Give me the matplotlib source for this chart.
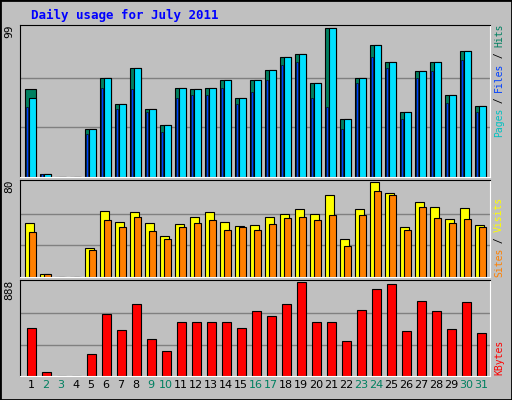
import numpy as np
import matplotlib
matplotlib.use("Agg")
import matplotlib.pyplot as plt
from matplotlib.transforms import IdentityTransform

days = np.arange(1, 32)
hits = [58.7, 2.2, 0, 0, 31.8, 66, 48.6, 72.1, 45.2, 34.5, 59.4, 58.7, 59.4, 64.7, 52.6, 64.7,
        71.4, 79.5, 81.5, 62.7, 99, 38.5, 66, 87.6, 76.2, 43.2, 70.1, 76.2, 54.7, 83.5, 47.3]
files = [52.6, 2.2, 0, 0, 31.8, 66, 48.6, 72.1, 45.2, 34.5, 59.4, 58.7, 59.4, 64.7, 52.6, 64.7,
         71.4, 79.5, 81.5, 62.7, 99, 38.5, 66, 87.6, 76.2, 43.2, 70.1, 76.2, 54.7, 83.5, 47.3]
pages = [46.6, 2.2, 0, 0, 28.4, 59.4, 45.2, 58.7, 43.2, 29.8, 52.6, 54.7, 54.7, 59.4, 48.6, 56.7,
         64.7, 74.1, 76.2, 52.6, 46.6, 31.8, 62.7, 79.5, 72.1, 38.5, 66, 70.1, 49.3, 77.5, 43.2]
visits = [45.3, 2.9, 0, 0, 24.5, 55.7, 46.2, 54.9, 45.3, 34.9, 44.5, 50.5, 54.9, 46.2, 42.7, 43.6,
          50.5, 53.1, 57.5, 53.1, 68.7, 32.3, 57.5, 80, 70.5, 41.9, 63.5, 59.2, 48.8, 58.3, 43.6]
sites = [37.5, 2.9, 0, 0, 22.8, 47.9, 41.9, 50.5, 38.4, 32.3, 41.9, 45.3, 47.9, 39.3, 41.9, 39.3,
         44.5, 49.7, 50.5, 47.9, 52.3, 26.3, 52.3, 72.2, 68.7, 39.3, 59.2, 49.7, 45.3, 48.8, 41.9]
kbytes = [450, 42, 0, 0, 207, 587, 431, 684, 353, 237, 509, 509, 509, 509, 450, 616,
          567, 684, 888, 509, 509, 334, 625, 820, 869, 421, 703, 616, 441, 694, 402]
weekend = [2, 3, 9, 10, 16, 17, 23, 24, 30, 31]

BG = "#c0c0c0"
fig = plt.figure(figsize=(5.12, 4.0), dpi=100, facecolor=BG)
fig.patches.append(plt.Rectangle((0, 0), 1, 1, transform=fig.transFigure,
                                 fill=False, edgecolor="black", linewidth=2))
fig.text(0.06, 0.962, "Daily usage for July 2011", color="#0000ff",
         family="DejaVu Sans Mono", weight="bold", fontsize=9, va="center")


def panel(rect, top):
    ax = fig.add_axes(rect, facecolor=BG)
    ax.set_xlim(0.317, 31.65)
    ax.set_ylim(0, top * 1.02)
    for t in (top / 3, 2 * top / 3):
        ax.axhline(t, color="#808080", linewidth=1, zorder=0)
    ax.set_xticks([])
    ax.set_yticks([])
    for s in ("top", "left"):
        ax.spines[s].set_color("black")
    for s in ("bottom", "right"):
        ax.spines[s].set_color("white")
    ax.text(-0.012, 1.0, str(top), transform=ax.transAxes, rotation=90,
            ha="right", va="top", fontsize=8, family="DejaVu Sans Mono")
    return ax


# right-hand labels, stacked bottom-to-top in pixel units
def side_label(parts, y0):
    y = y0
    for txt, col in parts:
        fig.text(494, y, txt, transform=IdentityTransform(), rotation=90, color=col,
                 ha="left", va="bottom", fontsize=7, family="DejaVu Sans Mono")
        y += len(txt) * 5.6


kw = dict(edgecolor="black", linewidth=0.8, align="edge")

ax1 = panel([0.039, 0.5575, 0.918, 0.38], 99)
ax1.bar(days - 0.35, hits, width=0.72, color="#008060", **kw)
ax1.bar(days - 0.1, files, width=0.5, color="#00e0ff", **kw)
ax1.bar(days - 0.25, pages, width=0.1, color="#0040ff", edgecolor="black", linewidth=0.4, align="edge")
side_label([("Pages", "#00c0c0"), (" / ", "#000000"), ("Files", "#0040ff"),
            (" / ", "#000000"), ("Hits", "#008060")], 263)

ax2 = panel([0.039, 0.3075, 0.918, 0.2425], 80)
ax2.bar(days - 0.35, visits, width=0.6, color="#ffff00", **kw)
ax2.bar(days - 0.08, sites, width=0.48, color="#ff8000", **kw)
side_label([("Sites", "#ff8000"), (" / ", "#000000"), ("Visits", "#ffff00")], 123)

ax3 = panel([0.039, 0.06, 0.918, 0.24], 888)
ax3.bar(days - 0.23, kbytes, width=0.63, color="#ff0000", **kw)
side_label([("KBytes", "#ff0000")], 25)

for d in days:
    ax3.text(d + 0.05, -0.04, str(d), transform=ax3.get_xaxis_transform(),
             ha="center", va="top", fontsize=8, family="DejaVu Sans",
             color="#008060" if d in weekend else "black")

fig.savefig("out.png", dpi=100, facecolor=BG)
